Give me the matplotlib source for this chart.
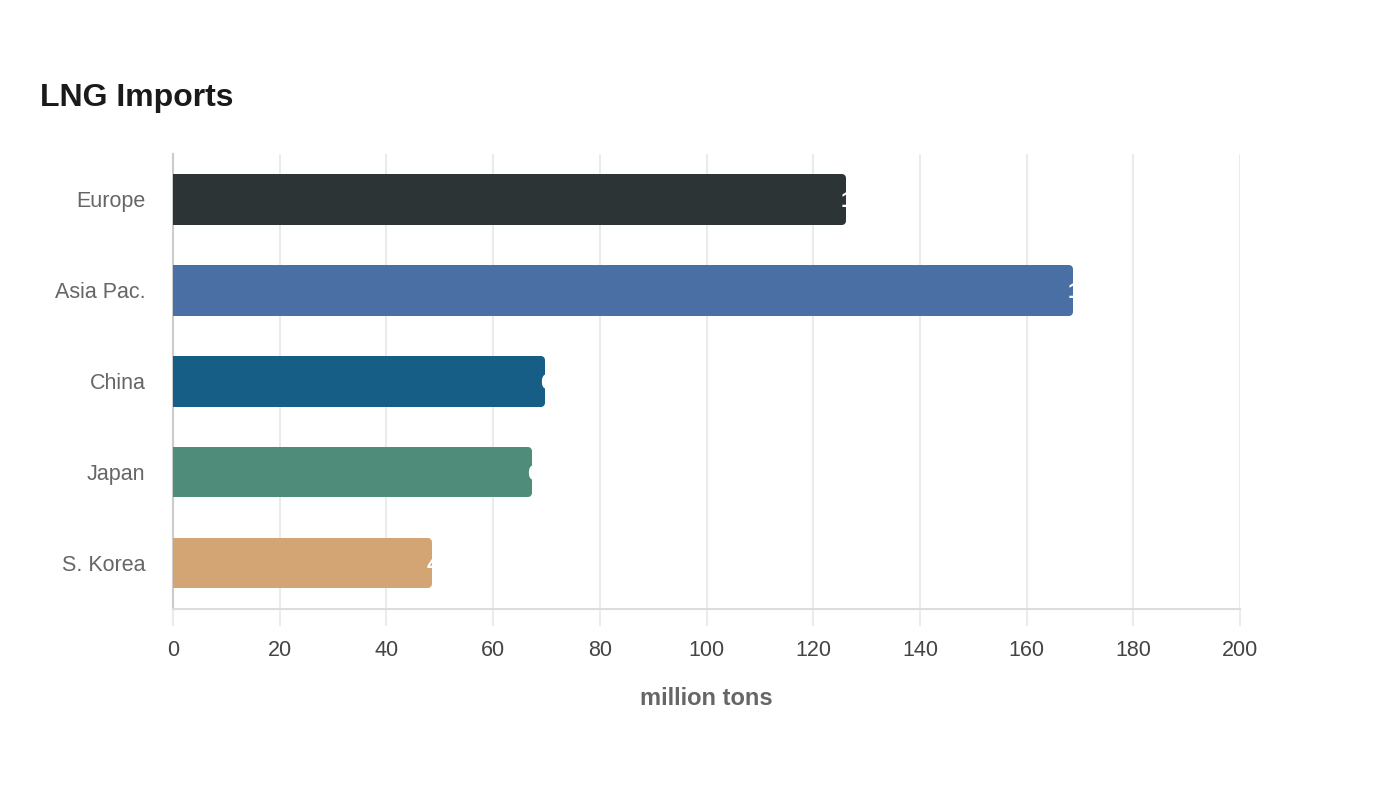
import matplotlib
matplotlib.use("Agg")
import matplotlib.pyplot as plt
from matplotlib.patches import Rectangle

plt.rcParams['font.family'] = ['Liberation Sans', 'DejaVu Sans']

# data
regions = ["Europe", "Asia Pac.", "China", "Japan", "S. Korea"]
imports = [126.1, 168.7, 69.7, 67.3, 48.5]
labels = ["126.1", "168.7", "69.7", "67.3", "48.5"]
colors = ["#2d3436", "#4a6fa5", "#175e87", "#4f8c7a", "#d4a574"]
xticks = [0, 20, 40, 60, 80, 100, 120, 140, 160, 180, 200]

fig = plt.figure(figsize=(14, 8), dpi=100)
ax = fig.add_axes([0.1236, 0.2388, 0.7621, 0.5687])

ax.set_xlim(0, 200)
ax.set_ylim(len(regions) - 0.5, -0.5)

h = 0.55
px_x = 200 / 1067.0   # data units per pixel
px_y = 5 / 455.0
rp = 4  # corner radius in px
for i, (v, c) in enumerate(zip(imports, colors)):
    # inset rectangle with a thick round-joined edge -> rounded corners
    ax.add_patch(Rectangle((rp * px_x, i - h / 2 + rp * px_y),
                           v - 2 * rp * px_x, h - 2 * rp * px_y,
                           facecolor=c, edgecolor=c, linewidth=2 * rp * 0.72,
                           joinstyle="round", zorder=3))
    # square left end
    ax.add_patch(Rectangle((0, i - h / 2), v / 2, h, facecolor=c,
                           edgecolor="none", zorder=3))
    ax.text(v - 5 * px_x, i + 2 * px_y, labels[i], color="white", fontsize=16,
            fontweight="bold", ha="left", va="center", zorder=4)

ax.set_yticks(range(len(regions)))
ax.set_yticklabels(regions)
ax.set_xticks(xticks)

ax.grid(axis="x", color="#ebebeb", linewidth=1.5, zorder=0)
ax.set_axisbelow(True)
for s in ["top", "right"]:
    ax.spines[s].set_visible(False)
ax.spines["left"].set_color("#cccccc")
ax.spines["left"].set_linewidth(1.5)
ax.spines["bottom"].set_color("#dddddd")
ax.spines["bottom"].set_linewidth(1.5)

ax.tick_params(axis="y", length=0, pad=20, labelsize=15.5, labelcolor="#666666")
ax.tick_params(axis="x", length=12, width=1.5, color="#ebebeb", pad=10,
               labelsize=15.5, labelcolor="#444444")

ax.set_xlabel("million tons", fontsize=17, fontweight="bold", color="#666666",
              labelpad=19)

fig.text(40 / 1400, 1 - 98 / 800, "LNG Imports", fontsize=23, fontweight="bold",
         color="#1a1a1a", ha="left", va="center")

fig.savefig("out.png", dpi=100)
